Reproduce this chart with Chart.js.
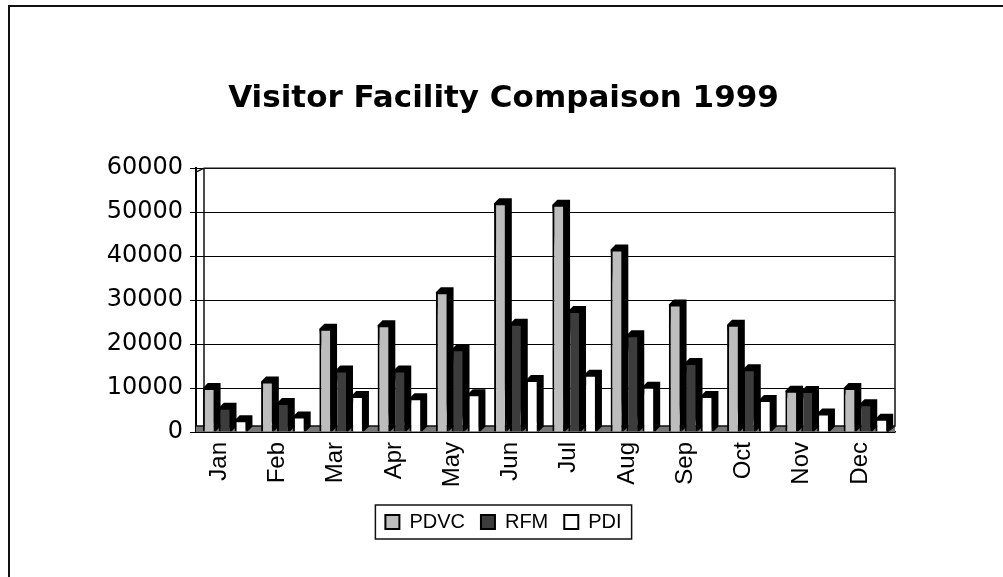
<!DOCTYPE html>
<html>
<head>
<meta charset="utf-8">
<script src="https://cdn.jsdelivr.net/npm/chart.js@4"></script>
<style>
  html, body { margin: 0; padding: 0; background: #fff; }
  #wrap { position: relative; width: 1003px; height: 577px; overflow: hidden; }
  #frame { position: absolute; left: 8px; top: 5px; width: 1100px; height: 700px;
           border-left: 2px solid #111; border-top: 2px solid #111; }
  canvas { position: absolute; left: 0; top: 0; }
</style>
</head>
<body>
<div id="wrap">
  <div id="frame"></div>
  <canvas id="chart" width="1003" height="577"></canvas>
</div>
<script>
const months = ["Jan", "Feb", "Mar", "Apr", "May", "Jun", "Jul", "Aug", "Sep", "Oct", "Nov", "Dec"];
const pdvc = [10000, 11500, 23500, 24300, 31800, 52000, 51700, 41500, 29000, 24400, 9400, 10000];
const rfm = [5500, 6600, 14000, 14000, 18800, 24600, 27500, 22000, 15700, 14300, 9300, 6300];
const pdi = [2700, 3500, 8200, 7700, 8600, 11800, 13000, 10300, 8200, 7300, 4200, 3000];
const yTicks = [0, 10000, 20000, 30000, 40000, 50000, 60000];

const arial = "'Liberation Sans', Arial, sans-serif";
const wide = "'DejaVu Sans', sans-serif";
const depth = 5;

// black side/top faces so the flat bars look like the old 3D columns
const depthFaces = {
  id: "depthFaces",
  beforeDatasetsDraw(chart) {
    const ctx = chart.ctx;
    const a = chart.chartArea;
    // floor strip
    ctx.save();
    ctx.fillStyle = "#777";
    ctx.fillRect(a.left, a.bottom - 6, a.right - a.left, 6);
    ctx.strokeStyle = "#111";
    ctx.lineWidth = 1.5;
    ctx.beginPath();
    ctx.moveTo(a.left, a.bottom - 6);
    ctx.lineTo(a.right, a.bottom - 6);
    ctx.stroke();
    chart.data.datasets.forEach((ds, i) => {
      chart.getDatasetMeta(i).data.forEach(el => {
        const { x, y, base, width } = el.getProps(["x", "y", "base", "width"], true);
        const l = x - width / 2, r = x + width / 2;
        ctx.fillStyle = "#000";
        ctx.beginPath();
        ctx.moveTo(l, y);
        ctx.lineTo(l + depth, y - depth);
        ctx.lineTo(r + depth, y - depth);
        ctx.lineTo(r + depth, base - depth);
        ctx.lineTo(r, base);
        ctx.closePath();
        ctx.fill();
      });
    });
    ctx.restore();
  },
  afterDraw(chart) {
    const ctx = chart.ctx;
    const a = chart.chartArea;
    ctx.save();
    ctx.strokeStyle = "#111";
    ctx.lineWidth = 1.5;
    // plot frame: top and right edge, back wall line on the left
    ctx.beginPath();
    ctx.moveTo(a.left + 8, a.top);
    ctx.lineTo(a.right, a.top);
    ctx.lineTo(a.right, a.bottom - 6);
    ctx.lineTo(a.right - 8, a.bottom);
    ctx.moveTo(a.left + 8, a.top);
    ctx.lineTo(a.left + 8, a.bottom - 6);
    ctx.moveTo(a.left, a.top + 4);
    ctx.lineTo(a.left + 8, a.top);
    ctx.stroke();
    // box round the legend
    const boxes = chart.legend.legendHitBoxes;
    if (boxes && boxes.length) {
      const x0 = boxes[0].left - 10;
      const x1 = boxes[boxes.length - 1].left + boxes[boxes.length - 1].width + 10;
      const y0 = boxes[0].top - 7;
      const y1 = boxes[0].top + boxes[0].height + 7;
      ctx.lineWidth = 1.5;
      ctx.strokeRect(x0, y0, x1 - x0, y1 - y0);
    }
    ctx.restore();
  }
};

new Chart(document.getElementById("chart"), {
  type: "bar",
  data: {
    labels: months,
    datasets: [
      { label: "PDVC", data: pdvc, backgroundColor: "#bdbdbd", borderColor: "#000", borderWidth: 2 },
      { label: "RFM", data: rfm, backgroundColor: "#3c3c3c", borderColor: "#000", borderWidth: 2 },
      { label: "PDI", data: pdi, backgroundColor: "#ffffff", borderColor: "#000", borderWidth: 2 }
    ]
  },
  options: {
    responsive: false,
    animation: false,
    layout: { padding: { left: 100, right: 96, top: 0, bottom: 35 } },
    datasets: { bar: { barPercentage: 0.8, categoryPercentage: 0.82 } },
    plugins: {
      title: {
        display: true,
        text: "Visitor Facility Compaison 1999",
        color: "#000",
        font: { family: wide, size: 31, weight: "bold" },
        padding: { top: 80, bottom: 51 }
      },
      legend: {
        position: "bottom",
        labels: {
          color: "#000",
          font: { family: arial, size: 20 },
          boxWidth: 14,
          boxHeight: 14,
          padding: 16
        }
      },
      tooltip: { enabled: false }
    },
    scales: {
      x: {
        grid: { display: false },
        border: { color: "#000", width: 1.5 },
        ticks: {
          color: "#000",
          font: { family: arial, size: 24 },
          minRotation: 90,
          maxRotation: 90,
          labelOffset: -6,
          padding: 2
        },
        afterFit(scale) { scale.height = 64; }
      },
      y: {
        min: 0,
        max: 60000,
        afterBuildTicks(scale) { scale.ticks = yTicks.map(v => ({ value: v })); },
        grid: { color: "#000", lineWidth: 1, tickLength: 6, tickColor: "#000" },
        border: { color: "#000", width: 2 },
        ticks: {
          color: "#000",
          font: { family: wide, size: 24 },
          padding: 7,
          callback: v => String(v)
        },
        afterFit(scale) { scale.width = 196 - 100; }
      },
      // empty strip on the right so the plot stops where the original does
      yRight: {
        position: "right",
        grid: { display: false },
        border: { display: false },
        ticks: { display: false },
        afterFit(scale) { scale.width = 12; }
      }
    }
  },
  plugins: [depthFaces]
});
</script>
</body>
</html>
